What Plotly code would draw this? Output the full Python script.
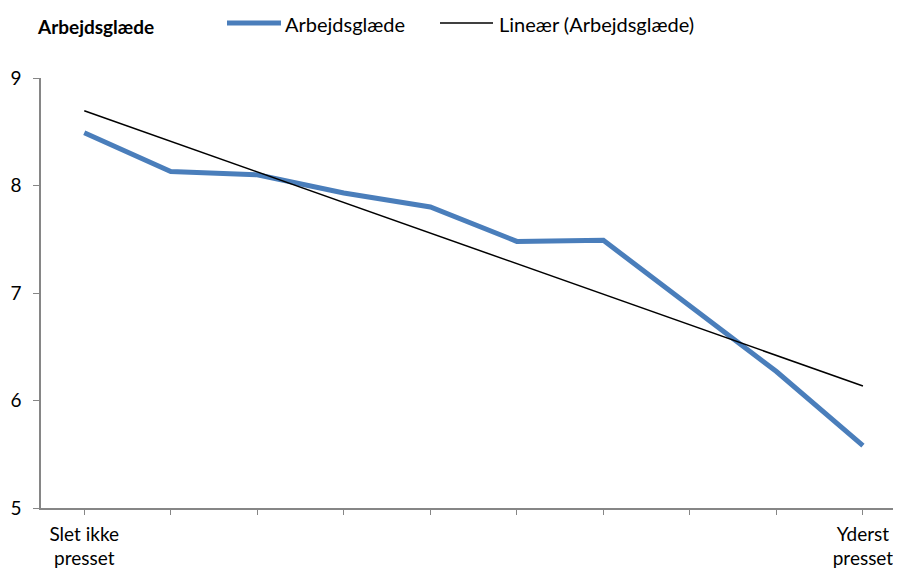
import numpy as np
import plotly.graph_objects as go

categories = ["Slet ikke<br>presset", "", "", "", "", "", "", "", "", "Yderst<br>presset"]
values = [8.49, 8.13, 8.10, 7.93, 7.80, 7.48, 7.49, 6.88, 6.27, 5.58]
series_name = "Arbejdsglæde"
trend_name = "Lineær (Arbejdsglæde)"
title_text = "Arbejdsglæde"
y_ticks = [5, 6, 7, 8, 9]

idx = np.arange(len(values))
slope, intercept = np.polyfit(idx, values, 1)
trend = slope * idx + intercept

font = "Lato, 'Open Sans', sans-serif"
BLUE = "#4A7EBB"
AXIS = "#868686"

# page body has an 8px margin, so the figure is sized to the visible area
OFF = 8
W, H = 901 - OFF, 571 - OFF
L, R, T, B = 41 - OFF, 0, 78 - OFF, 571 - 508
PW, PH = W - L - R, H - T - B


def px(x):
    return (x - OFF - L) / PW


def py(y):
    return (H - B - (y - OFF)) / PH


fig = go.Figure()
fig.add_trace(go.Scatter(x=idx, y=values, mode="lines", name=series_name,
                         line=dict(color=BLUE, width=5)))
fig.add_trace(go.Scatter(x=idx, y=trend, mode="lines", name=trend_name,
                         line=dict(color="black", width=1.5)))

# manual legend (Excel style, long line samples)
fig.add_shape(type="line", xref="paper", yref="paper", x0=px(227), x1=px(281), y0=py(23), y1=py(23),
              line=dict(color=BLUE, width=5))
fig.add_shape(type="line", xref="paper", yref="paper", x0=px(440), x1=px(493), y0=py(23), y1=py(23),
              line=dict(color="black", width=1.5))
fig.add_annotation(text=series_name, xref="paper", yref="paper", x=px(283), y=py(24),
                   xanchor="left", yanchor="middle", showarrow=False, font=dict(size=20))
fig.add_annotation(text=trend_name, xref="paper", yref="paper", x=px(497), y=py(24),
                   xanchor="left", yanchor="middle", showarrow=False, font=dict(size=20))
fig.add_annotation(text="<b>" + title_text + "</b>", xref="paper", yref="paper", x=px(35), y=py(27),
                   xanchor="left", yanchor="middle", showarrow=False, font=dict(size=19))

fig.update_layout(
    width=W, height=H,
    margin=dict(l=L, r=R, t=T, b=B),
    paper_bgcolor="white", plot_bgcolor="white",
    font=dict(family=font, size=19, color="black"),
    showlegend=False,
)
fig.update_xaxes(
    range=[-0.5, 9.44], tickmode="array", tickvals=list(idx), ticktext=categories,
    tickson="boundaries", ticks="outside", ticklen=5, tickcolor=AXIS,
    showline=True, linecolor=AXIS, linewidth=1.5, showgrid=False, zeroline=False,
    tickfont=dict(size=19), automargin=False, ticklabelstandoff=3,
)
fig.update_yaxes(
    range=[5, 9], tickvals=y_ticks, ticks="outside", ticklen=6, tickcolor=AXIS,
    showline=True, linecolor=AXIS, linewidth=1.5, showgrid=False, zeroline=False,
    tickfont=dict(size=19), automargin=False, ticklabelstandoff=8,
)
fig.write_html("out.html")
